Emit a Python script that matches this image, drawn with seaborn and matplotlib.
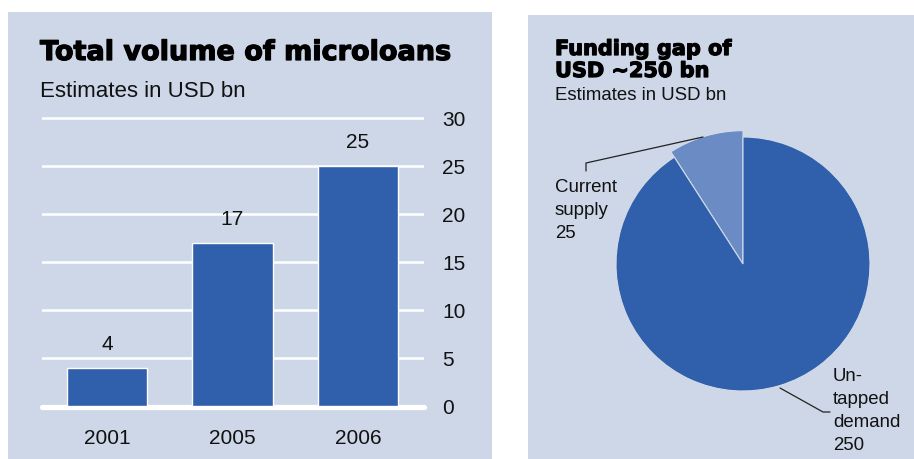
import matplotlib
matplotlib.use("Agg")
import matplotlib.pyplot as plt
import matplotlib.patheffects as pe
import seaborn as sns
import pandas as pd
from matplotlib.patches import Rectangle

# ---- data ----
years = ["2001", "2005", "2006"]
volumes = [4, 17, 25]
y_ticks = [0, 5, 10, 15, 20, 25, 30]
pie_labels = ["Current\nsupply\n25", "Un-\ntapped\ndemand\n250"]
pie_values = [25, 250]

sns.set_theme(style="white")
plt.rcParams['font.family'] = ['Liberation Sans', 'DejaVu Sans']

BG = "#cdd7e8"
BAR = "#3060ab"
LIGHT = "#6a8bc3"
TXT = "#111111"

W, H = 914, 459
fig = plt.figure(figsize=(W / 100, H / 100), dpi=100, facecolor="white")


def fx(px):
    return px / W


def fy(py):
    return 1 - py / H


# panel backgrounds
fig.patches.append(Rectangle((fx(8), 0), fx(492) - fx(8), fy(12),
                             transform=fig.transFigure, facecolor=BG,
                             edgecolor='none', zorder=-10))
fig.patches.append(Rectangle((fx(528), 0), 1 - fx(528), fy(15),
                             transform=fig.transFigure, facecolor=BG,
                             edgecolor='none', zorder=-10))

heavy = [pe.withStroke(linewidth=0.9, foreground='black')]

# ---- bar chart ----
ax = fig.add_axes([fx(42), (H - 410.8) / H, 382 / W, 297.6 / H])
ax.set_facecolor('none')
df = pd.DataFrame({'year': years, 'volume': volumes})
sns.barplot(data=df, x='year', y='volume', color=BAR, saturation=1,
            width=0.64, ax=ax, zorder=3)
ax.set_xlim(-0.518, 2.526)
ax.set_ylim(-0.5, 30.5)
ax.set_yticks(y_ticks)
for t in y_ticks[1:]:
    ax.axhline(t, color='white', lw=1.8, zorder=1)
ax.axhline(-0.1, color='white', lw=3.8, solid_capstyle='round',
           zorder=1, clip_on=False)
for s in ax.spines.values():
    s.set_visible(False)
ax.yaxis.tick_right()
ax.tick_params(axis='y', length=0, pad=13, labelsize=15, labelcolor=TXT)
ax.tick_params(axis='x', length=0, pad=13, labelsize=15, labelcolor=TXT)
ax.set_xlabel('')
ax.set_ylabel('')
ax.grid(False)
ax.bar_label(ax.containers[0], labels=[str(v) for v in volumes],
             padding=10, fontsize=15, color=TXT)

fig.text(fx(40), fy(60), "Total volume of microloans", fontsize=19.5,
         fontweight='bold', family='DejaVu Sans', color='black',
         va='baseline', ha='left', path_effects=heavy)
fig.text(fx(40), fy(97), "Estimates in USD bn", fontsize=16,
         color=TXT, va='baseline', ha='left')

# ---- pie chart ----
R = 127
cx, cy = 743, 264
ax2 = fig.add_axes([fx(cx - 1.1 * R), (H - cy - 1.1 * R) / H,
                    2.2 * R / W, 2.2 * R / H])
wedges, _ = ax2.pie(pie_values, colors=[LIGHT, BAR], startangle=90,
                    counterclock=True,
                    wedgeprops=dict(edgecolor='#d3dbea', linewidth=0.8))
wedges[0].set_radius(1.05)
ax2.set_xlim(-1.1, 1.1)
ax2.set_ylim(-1.1, 1.1)
ax2.set_aspect('equal')
ax2.axis('off')


def dx(px):
    return (px - cx) / R


def dy(py):
    return (cy - py) / R


ax2.plot([dx(586), dx(586), dx(703)], [dy(171), dy(163), dy(137)],
         color='#222222', lw=0.9, clip_on=False)
ax2.plot([dx(780), dx(823), dx(830)], [dy(388), dy(412), dy(412)],
         color='#222222', lw=0.9, clip_on=False)
ax2.text(dx(555), dy(179), pie_labels[0], ha='left', va='top',
         fontsize=13.4, linespacing=1.47, color=TXT)
ax2.text(dx(833), dy(368), pie_labels[1], ha='left', va='top',
         fontsize=13.4, linespacing=1.47, color=TXT)

fig.text(fx(555), fy(55), "Funding gap of", fontsize=15,
         fontweight='bold', family='DejaVu Sans', color='black',
         va='baseline', ha='left', path_effects=heavy)
fig.text(fx(555), fy(77), "USD ~250 bn", fontsize=15,
         fontweight='bold', family='DejaVu Sans', color='black',
         va='baseline', ha='left', path_effects=heavy)
fig.text(fx(555), fy(100), "Estimates in USD bn", fontsize=13.4,
         color=TXT, va='baseline', ha='left')

fig.savefig("out.png", dpi=100, facecolor="white")
